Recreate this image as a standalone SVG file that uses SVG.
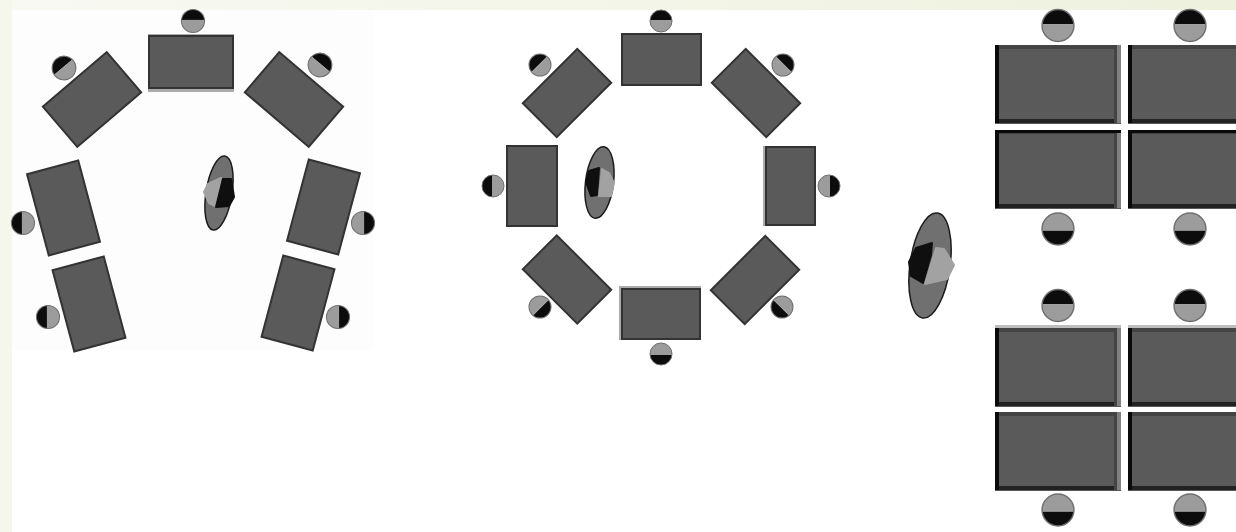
<svg xmlns="http://www.w3.org/2000/svg" width="1236" height="532" viewBox="0 0 1236 532">
<defs>
<style>
.desk{fill:#5a5a5a;stroke:#333;stroke-width:2}
.bev{fill:#ababab}
.k{fill:#0a0a0a}.s1{fill:#444}.s2{fill:#222}.s3{fill:#808080}
.dk{fill:#0c0c0c}.lt{fill:#9c9c9c}
.rim{fill:none;stroke:#707070;stroke-width:1}
.body{fill:#707070;stroke:#1c1c1c;stroke-width:1.5}
.sd{fill:#0f0f0f;stroke:#0f0f0f;stroke-width:2;stroke-linejoin:round}
.sl{fill:#a2a2a2;stroke:#a2a2a2;stroke-width:2;stroke-linejoin:round}
</style>
<linearGradient id="top" x1="0" x2="1" y1="0" y2="0"><stop offset="0" stop-color="#f8f9f2"/><stop offset="1" stop-color="#eef1de"/></linearGradient>
<clipPath id="c"><circle r="11"/></clipPath>
<g id="p"><g clip-path="url(#c)"><rect x="-11" y="-11" width="22" height="10" class="dk"/><rect x="-11" y="-1" width="22" height="12" class="lt"/></g><circle r="11" class="rim"/></g>
<g id="w"><rect width="126" height="79" class="desk" style="stroke:none"/><rect y="0" width="126" height="4" class="s1"/><rect y="74" width="126" height="4" class="s2"/><rect width="4" height="78" class="k"/><rect x="119" width="3" height="78" class="s1"/><rect x="122" width="4" height="78" class="s3"/></g>
</defs>
<rect width="1236" height="532" fill="#fff"/>
<rect width="1236" height="10" fill="url(#top)"/>
<rect width="12" height="532" fill="#f5f7ec"/>
<rect x="12" y="10" width="361" height="340" fill="#fdfdfd"/>

<g id="layout-a">
<g id="a-desk-1"><rect x="148" y="34" width="86" height="58" class="bev"/><rect x="149" y="36" width="84" height="52" class="desk"/><use href="#p" transform="translate(193 21) scale(1.05)"/></g>
<g id="a-desk-2"><rect x="-42" y="-26.500" width="84" height="53" class="desk" transform="translate(92 99.500) rotate(-40.500)"/><use href="#p" transform="translate(64 68) rotate(-40) scale(1.08)"/></g>
<g id="a-desk-3"><rect x="-42" y="-26.500" width="84" height="53" class="desk" transform="translate(294 99.500) rotate(40.500)"/><use href="#p" transform="translate(320 65) rotate(40) scale(1.08)"/></g>
<g id="a-desk-4"><rect x="-26.500" y="-42" width="53" height="84" class="desk" transform="translate(63.500 208) rotate(-15)"/><use href="#p" transform="translate(23 223) rotate(-90) scale(1.05)"/></g>
<g id="a-desk-5"><rect x="-26.500" y="-42" width="53" height="84" class="desk" transform="translate(323.500 207) rotate(15)"/><use href="#p" transform="translate(363 223) rotate(90) scale(1.05)"/></g>
<g id="a-desk-6"><rect x="-26.500" y="-42" width="53" height="84" class="desk" transform="translate(89 304) rotate(-15)"/><use href="#p" transform="translate(48 317) rotate(-90) scale(1.05)"/></g>
<g id="a-desk-7"><rect x="-26.500" y="-42" width="53" height="84" class="desk" transform="translate(298 303) rotate(15)"/><use href="#p" transform="translate(338 317) rotate(90) scale(1.05)"/></g>
<g id="a-speaker"><ellipse cx="219" cy="193" rx="13" ry="37.500" transform="rotate(9 219 193)" class="body"/><path d="M208 184 221 178 215 206 209 203 204 192Z" class="sl"/><path d="M223 179 231 179 234 197 229 206 216 207Z" class="sd"/></g>
</g>

<g id="layout-b">
<g id="b-desk-1"><rect x="622" y="34" width="79" height="51" class="desk"/><use href="#p" transform="translate(661 21)"/></g>
<g id="b-desk-2"><rect x="-38.500" y="-24" width="77" height="48" class="desk" transform="translate(567 93) rotate(-45)"/><use href="#p" transform="translate(540 65) rotate(-45)"/></g>
<g id="b-desk-3"><rect x="-38.500" y="-24" width="77" height="48" class="desk" transform="translate(756 93) rotate(45)"/><use href="#p" transform="translate(783 65) rotate(45)"/></g>
<g id="b-desk-4"><rect x="507" y="146" width="50" height="80" class="desk"/><use href="#p" transform="translate(493 186) rotate(-90)"/></g>
<g id="b-desk-5"><rect x="763" y="146" width="53" height="80" class="bev"/><rect x="766" y="147" width="49" height="78" class="desk"/><use href="#p" transform="translate(829 186) rotate(90)"/></g>
<g id="b-desk-6"><rect x="-38.500" y="-24" width="77" height="48" class="desk" transform="translate(567 279.500) rotate(45)"/><use href="#p" transform="translate(540 307) rotate(135)"/></g>
<g id="b-desk-7"><rect x="-38.500" y="-24" width="77" height="48" class="desk" transform="translate(755 280) rotate(-45)"/><use href="#p" transform="translate(782 307) rotate(225)"/></g>
<g id="b-desk-8"><rect x="619" y="286" width="82" height="54" class="bev"/><rect x="622" y="289" width="78" height="50" class="desk"/><use href="#p" transform="translate(661 354) rotate(180)"/></g>
<g id="b-speaker"><ellipse cx="599.500" cy="182.500" rx="14" ry="36" transform="rotate(7 599.500 182.500)" class="body"/><path d="M586 182 589 171 599 168 597 195 591 196Z" class="sd"/><path d="M602 169 609 173 614 183 611 196 599 196Z" class="sl"/></g>
</g>

<g id="layout-c">
<g id="c-desk-1"><use href="#w" x="995" y="45"/><use href="#p" transform="translate(1058 25.500) scale(1.45)"/></g>
<g id="c-desk-2"><use href="#w" x="1128" y="45"/><use href="#p" transform="translate(1190 25.500) scale(1.45)"/></g>
<g id="c-desk-3"><use href="#w" x="995" y="130"/><rect x="995" y="130" width="126" height="3" class="k"/><use href="#p" transform="translate(1058 229) rotate(180) scale(1.45)"/></g>
<g id="c-desk-4"><use href="#w" x="1128" y="130"/><rect x="1128" y="130" width="108" height="3" class="k"/><use href="#p" transform="translate(1190 229) rotate(180) scale(1.45)"/></g>
<g id="c-desk-5"><rect x="995" y="325" width="126" height="4" fill="#bdbdbd"/><use href="#w" x="995" y="328"/><use href="#p" transform="translate(1058 305.500) scale(1.45)"/></g>
<g id="c-desk-6"><rect x="1128" y="325" width="108" height="4" fill="#bdbdbd"/><use href="#w" x="1128" y="328"/><use href="#p" transform="translate(1190 305.500) scale(1.45)"/></g>
<g id="c-desk-7"><use href="#w" x="995" y="412"/><use href="#p" transform="translate(1058 510) rotate(180) scale(1.45)"/></g>
<g id="c-desk-8"><use href="#w" x="1128" y="412"/><use href="#p" transform="translate(1190 510) rotate(180) scale(1.45)"/></g>
<g id="c-speaker"><ellipse cx="930" cy="265.500" rx="20" ry="53" transform="rotate(8 930 265.500)" class="body"/><path d="M909 262 916 248 932 243 931 255 923 283 911 276Z" class="sd"/><path d="M936 248 944 249 954 265 947 279 925 284Z" class="sl"/></g>
</g>
</svg>
